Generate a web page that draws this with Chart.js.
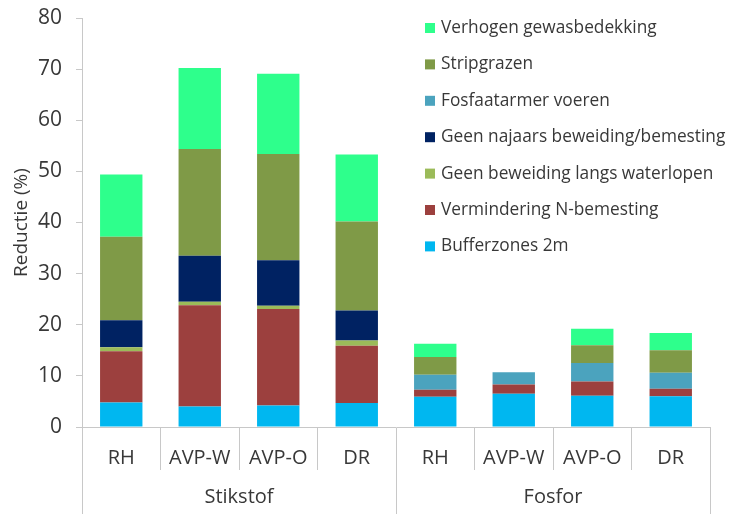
<!DOCTYPE html>
<html>
<head>
<meta charset="utf-8">
<script src="https://cdn.jsdelivr.net/npm/chart.js@4"></script>
<style>
  body { margin: 0; background: #fff; }
  #wrap { width: 731px; height: 514px; }
</style>
</head>
<body>
<div id="wrap"><canvas id="myChart"></canvas></div>
<script>
const categories = ["RH", "AVP-W", "AVP-O", "DR", "RH", "AVP-W", "AVP-O", "DR"];
const groups = ["Stikstof", "Fosfor"];

// segment sizes, bottom to top
const bufferzones = [4.8, 4.0, 4.2, 4.7, 5.9, 6.5, 6.1, 6.0];
const verminderingN = [10.0, 19.8, 18.9, 11.2, 1.4, 1.8, 2.8, 1.5];
const geenBeweidingWaterlopen = [0.8, 0.7, 0.6, 1.0, 0, 0, 0, 0];
const geenNajaars = [5.3, 9.0, 8.9, 5.9, 0, 0, 0, 0];
const fosfaatarmer = [0, 0, 0, 0, 2.9, 2.4, 3.6, 3.1];
const stripgrazen = [16.3, 20.9, 20.8, 17.4, 3.5, 0, 3.5, 4.4];
const verhogen = [12.2, 15.8, 15.7, 13.1, 2.6, 0, 3.2, 3.4];

const yTicks = [0, 10, 20, 30, 40, 50, 60, 70, 80];

const textColor = "#383838";
const lineColor = "#c8c8c8";
const font = "'Open Sans', sans-serif";

const ctx = document.querySelector("#myChart").getContext("2d");

const data = {
    labels: categories,
    datasets: [
        { label: "Bufferzones 2m", data: bufferzones, backgroundColor: "#00B7F0" },
        { label: "Vermindering N-bemesting", data: verminderingN, backgroundColor: "#9C403E" },
        { label: "Geen beweiding langs waterlopen", data: geenBeweidingWaterlopen, backgroundColor: "#9BBB59" },
        { label: "Geen najaars beweiding/bemesting", data: geenNajaars, backgroundColor: "#002262" },
        { label: "Fosfaatarmer voeren", data: fosfaatarmer, backgroundColor: "#4BA3BE" },
        { label: "Stripgrazen", data: stripgrazen, backgroundColor: "#7F9A47" },
        { label: "Verhogen gewasbedekking", data: verhogen, backgroundColor: "#2EFF8C" },
    ]
};

// legend inside the plot, top right, reversed order
const sideLegend = {
    id: "sideLegend",
    afterDraw(chart) {
        const c = chart.ctx;
        const sets = chart.data.datasets.slice().reverse();
        c.save();
        c.font = "17.3px " + font;
        c.textBaseline = "middle";
        c.textAlign = "left";
        sets.forEach((ds, i) => {
            const y = 28 + i * 36.4;
            c.fillStyle = ds.backgroundColor;
            c.fillRect(425, y - 5, 10, 10);
            c.fillStyle = textColor;
            c.fillText(ds.label, 441, y);
        });
        c.restore();
    }
};

const config = {
    type: "bar",
    data: data,
    plugins: [sideLegend],
    options: {
        responsive: true,
        maintainAspectRatio: false,
        animation: false,
        barPercentage: 0.54,
        categoryPercentage: 1,
        layout: { padding: { top: 0, right: 21, left: 0, bottom: 0 } },
        plugins: {
            legend: { display: false },
            tooltip: { enabled: false }
        },
        scales: {
            x: {
                stacked: true,
                grid: { offset: true, drawOnChartArea: false, tickLength: 43, color: lineColor },
                border: { color: lineColor },
                ticks: { color: textColor, font: { family: font, size: 20 }, padding: -24 },
                afterFit: (scale) => { scale.height = 43; }
            },
            x2: {
                type: "category",
                labels: groups,
                position: "bottom",
                offset: true,
                grid: { offset: true, drawOnChartArea: false, tickLength: 44, color: lineColor },
                border: { display: false },
                ticks: { color: textColor, font: { family: font, size: 20 }, padding: -29 },
                afterFit: (scale) => { scale.height = 44; }
            },
            y: {
                stacked: true,
                min: 0,
                max: 80,
                afterBuildTicks: (scale) => {
                    scale.ticks = yTicks.map((v) => ({ value: v }));
                },
                afterFit: (scale) => {
                    scale.width = 82;
                    scale.paddingTop = 18;
                },
                grid: { drawOnChartArea: false, tickLength: 6, color: lineColor },
                border: { color: lineColor },
                ticks: { color: textColor, font: { family: font, size: 21 }, padding: 14 },
                title: {
                    display: true,
                    text: "Reductie (%)",
                    color: textColor,
                    font: { family: font, size: 19 },
                    padding: { top: 10, bottom: 5 }
                }
            }
        }
    }
};

const myChart = new Chart(ctx, config);
</script>
</body>
</html>
